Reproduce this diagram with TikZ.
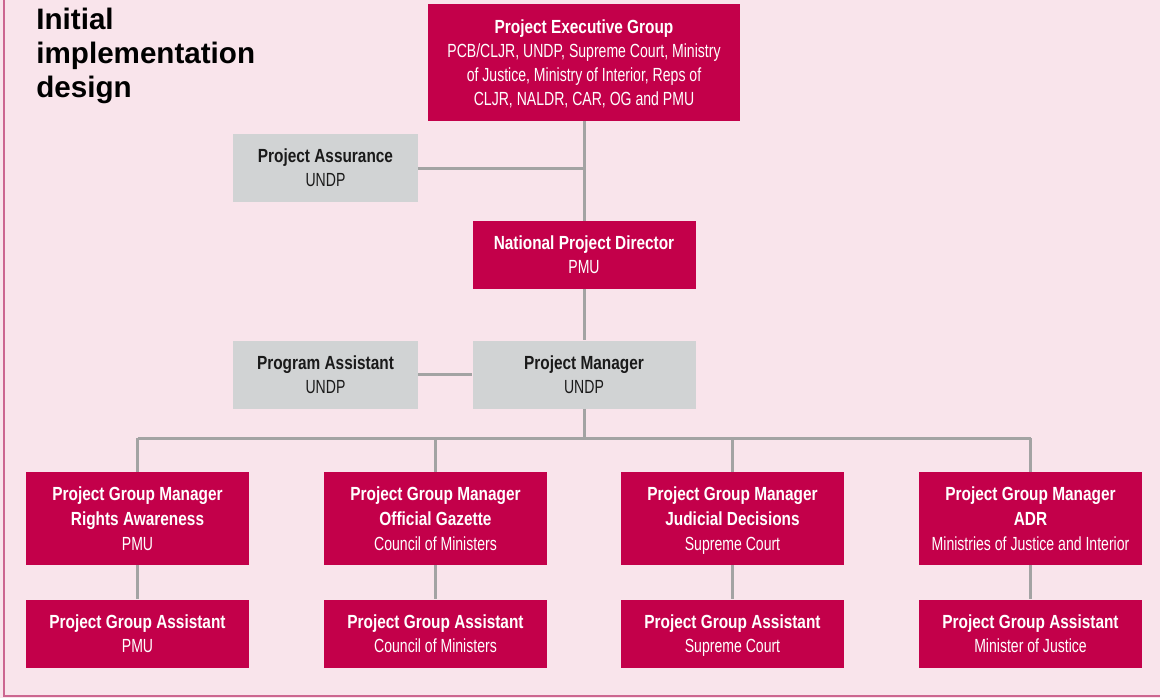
\documentclass[tikz,border=0pt]{standalone}
\usepackage{fontspec}
\setmainfont{Liberation Sans}[FakeStretch=0.74,BoldFeatures={FakeStretch=0.81}]
\newfontfamily\headfont{Liberation Sans}
\usetikzlibrary{positioning}
\definecolor{crimson}{HTML}{C3004A}
\definecolor{blush}{HTML}{F9E4EB}
\definecolor{rose}{HTML}{CC6690}
\definecolor{stone}{HTML}{D1D3D4}
\definecolor{wire}{HTML}{A3A3A3}
\definecolor{ink}{HTML}{1A1A1A}

\begin{document}
\begin{tikzpicture}[
 x=0.5pt,y=-0.5pt,
 node distance=17pt,
 unit/.style={fill=crimson,text=white,minimum width=111.5pt,minimum height=34pt,inner sep=0pt,align=center,
  font=\fontsize{9.5}{12}\selectfont,text depth=-2.2pt},
 side/.style={unit,fill=stone,text=ink,minimum width=92.5pt},
 lead/.style={unit,minimum height=46.5pt,font=\fontsize{9.5}{12.5}\selectfont},
 link/.style={draw=wire,line width=1.5pt}
]
% panel
\useasboundingbox (0,0) rectangle (1160,698);
\fill[blush] (0,0) rectangle (1160,698);
\draw[rose,line width=1.2pt] (4,0) -- (4,696) -- (1160,696);
\node[anchor=north west,inner sep=0pt,align=left,text=black,font=\headfont\bfseries\fontsize{14.8}{17}\selectfont] (title) at (36,8) {Initial\\implementation\\design};

% top of the chart
\node[unit,minimum width=156pt,minimum height=58.5pt] (peg) at (584,62.5) {\textbf{Project Executive Group}\\PCB/CLJR, UNDP, Supreme Court, Ministry\\of Justice, Ministry of Interior, Reps of\\CLJR, NALDR, CAR, OG and PMU};
\node[side] (assure) at (325.5,168) {\textbf{Project Assurance}\\UNDP};
\node[unit] (npd) at (584,255) {\textbf{National Project Director}\\PMU};
\node[side,minimum width=111.5pt] (pm) at (584,374.5) {\textbf{Project Manager}\\UNDP};
\node[side] (prog) at (325.5,374.5) {\textbf{Program Assistant}\\UNDP};

% group managers and their assistants
\node[lead] (m1) at (137.5,518.5) {\textbf{Project Group Manager}\\\textbf{Rights Awareness}\\PMU};
\node[lead] (m2) at (435.5,518.5) {\textbf{Project Group Manager}\\\textbf{Official Gazette}\\Council of Ministers};
\node[lead] (m3) at (732.5,518.5) {\textbf{Project Group Manager}\\\textbf{Judicial Decisions}\\Supreme Court};
\node[lead] (m4) at (1030.5,518.5) {\textbf{Project Group Manager}\\\textbf{ADR}\\Ministries of Justice and Interior};
\node[unit,below=of m1] (a1) {\textbf{Project Group Assistant}\\PMU};
\node[unit,below=of m2] (a2) {\textbf{Project Group Assistant}\\Council of Ministers};
\node[unit,below=of m3] (a3) {\textbf{Project Group Assistant}\\Supreme Court};
\node[unit,below=of m4] (a4) {\textbf{Project Group Assistant}\\Minister of Justice};

% lines
\coordinate (bus) at (584,438);
\draw[link] (peg.south) -- (npd.north);
\draw[link] (assure.east) -- (assure.east -| peg.south);
\draw[link] (npd.south) -- (pm.north);
\draw[link] (prog.east) -- (pm.west);
\draw[link] (pm.south) -- (bus);
\draw[link] (m1.north |- bus) -- (m4.north |- bus);
\foreach \i in {1,...,4}{
 \draw[link] (m\i.north |- bus) -- (m\i.north);
 \draw[link] (m\i.south) -- (a\i.north);
}
\end{tikzpicture}
\end{document}
